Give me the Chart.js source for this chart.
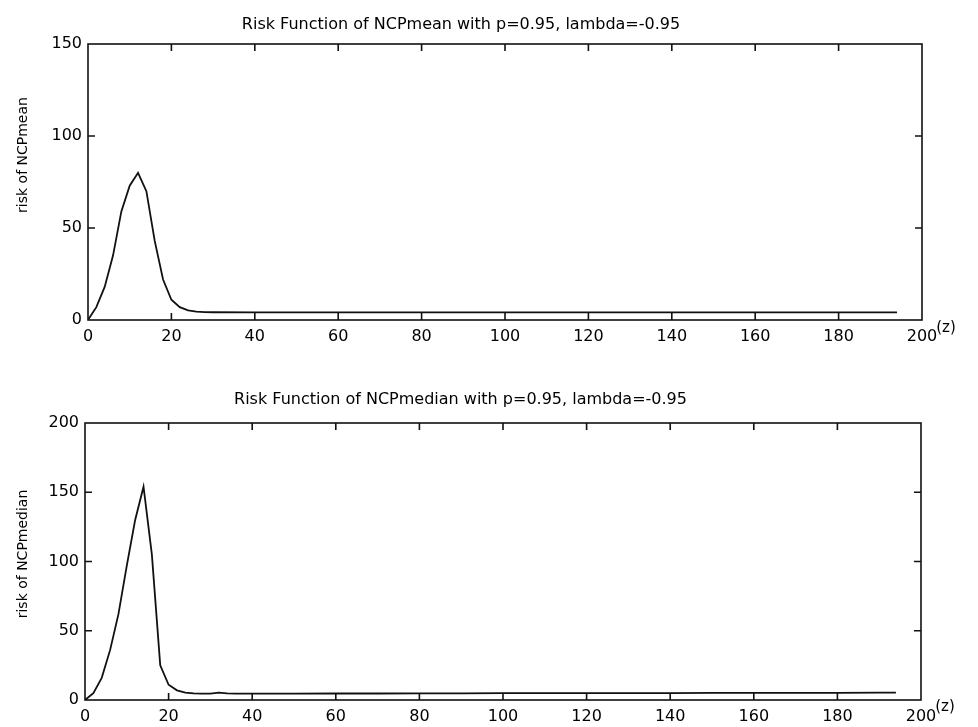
<!DOCTYPE html>
<html><head><meta charset="utf-8">
<script src="https://cdn.jsdelivr.net/npm/chart.js@4/dist/chart.umd.min.js"></script>
<style>
html,body{margin:0;padding:0;background:#fff;}
#wrap{position:relative;width:978px;height:727px;overflow:hidden;}
canvas{position:absolute;left:0;}
</style></head><body>
<div id="wrap">
<canvas id="c1" width="978" height="360" style="top:0;width:978px;height:360px"></canvas>
<canvas id="c2" width="978" height="351" style="top:376px;width:978px;height:351px"></canvas>
</div>
<script>
// ---- data ----
const zMean      = [0, 2, 4, 6, 8, 10, 12, 14, 16, 18, 20, 22, 24, 26, 28, 30, 40, 50, 60, 70, 80, 90, 100, 110, 120, 130, 140, 150, 160, 170, 180, 190, 194];
const riskMean   = [0, 7, 18, 35, 59, 73, 80, 70, 43, 22, 11, 7, 5.2, 4.6, 4.3, 4.2, 4.1, 4.1, 4.1, 4.1, 4.1, 4.1, 4.1, 4.1, 4.1, 4.1, 4.1, 4.1, 4.1, 4.1, 4.1, 4.1, 4.1];
const zMedian    = [0, 2, 4, 6, 8, 10, 12, 14, 16, 18, 20, 22, 24, 26, 28, 30, 32, 34, 36, 40, 50, 60, 70, 80, 90, 100, 110, 120, 130, 140, 150, 160, 170, 180, 190, 194];
const riskMedian = [0, 5, 16, 36, 62, 97, 130, 154, 105, 25, 11, 7, 5.3, 4.8, 4.6, 4.6, 5.3, 4.8, 4.6, 4.6, 4.6, 4.7, 4.7, 4.8, 4.8, 4.9, 4.9, 5, 5, 5, 5.1, 5.1, 5.2, 5.2, 5.3, 5.3];
const xTicks = {min: 0, max: 200, step: 20};
const meanTicks = {min: 0, max: 150, step: 50};
const medianTicks = {min: 0, max: 200, step: 50};
const titleMean = 'Risk Function of NCPmean with p=0.95, lambda=-0.95';
const titleMedian = 'Risk Function of NCPmedian with p=0.95, lambda=-0.95';
const yLabelMean = 'risk of NCPmean';
const yLabelMedian = 'risk of NCPmedian';
const zLabel = '(z)';

const INK = '#111';
const FONT = "'DejaVu Sans', 'Liberation Sans', sans-serif";

const framePlugin = {
  id: 'frame',
  afterDraw(chart, args, o) {
    const {ctx, chartArea: a} = chart;
    const x = chart.scales.x, y = chart.scales.y;
    const L = o.tickLen;
    ctx.save();
    ctx.strokeStyle = INK;
    ctx.lineWidth = o.lineWidth;
    ctx.beginPath();
    x.ticks.forEach(t => {
      const p = x.getPixelForValue(t.value);
      if (p <= a.left + 1 || p >= a.right - 1) return;
      ctx.moveTo(p, a.bottom); ctx.lineTo(p, a.bottom - L);
      ctx.moveTo(p, a.top); ctx.lineTo(p, a.top + L);
    });
    y.ticks.forEach(t => {
      const p = y.getPixelForValue(t.value);
      if (p <= a.top + 1 || p >= a.bottom - 1) return;
      ctx.moveTo(a.left, p); ctx.lineTo(a.left + L, p);
      ctx.moveTo(a.right, p); ctx.lineTo(a.right - L, p);
    });
    ctx.stroke();
    ctx.strokeRect(a.left, a.top, a.right - a.left, a.bottom - a.top);
    ctx.fillStyle = '#000';
    ctx.textAlign = 'center';
    ctx.textBaseline = 'middle';
    ctx.font = '15px ' + FONT;
    ctx.fillText(o.zText, a.right + o.zDx, a.bottom + o.zDy);
    ctx.font = o.yFont + 'px ' + FONT;
    ctx.translate(o.yX, o.yY);
    ctx.rotate(-Math.PI / 2);
    ctx.fillText(o.yText, 0, 0);
    ctx.restore();
  }
};

function makeChart(id, zs, vals, yt, title, yLabel, dims) {
  const data = zs.map((z, i) => ({x: z, y: vals[i]}));
  return new Chart(document.getElementById(id), {
    type: 'line',
    data: {datasets: [{data, borderColor: INK, borderWidth: 1.8, pointRadius: 0, tension: 0, fill: false}]},
    plugins: [framePlugin],
    options: {
      responsive: false,
      animation: false,
      devicePixelRatio: 1,
      layout: {padding: {left: 0, right: dims.padRight, top: 0, bottom: 0}},
      plugins: {
        legend: {display: false},
        tooltip: {enabled: false},
        title: {display: true, text: title, color: '#000',
          font: {family: FONT, size: 16, weight: 'normal'}, padding: dims.titlePad},
        frame: {tickLen: 7, lineWidth: 1.6, zText: zLabel, zDx: 24, zDy: dims.zDy,
          yText: yLabel, yX: 23, yY: dims.yY, yFont: 14}
      },
      scales: {
        x: {type: 'linear', min: xTicks.min, max: xTicks.max,
          grid: {display: false, drawTicks: false}, border: {display: false},
          ticks: {stepSize: xTicks.step, padding: 7, color: '#000', maxRotation: 0,
            font: {family: FONT, size: 16}},
          afterFit: s => { s.height = dims.xH; }},
        y: {type: 'linear', min: yt.min, max: yt.max,
          grid: {display: false, drawTicks: false}, border: {display: false},
          ticks: {stepSize: yt.step, padding: 6, color: '#000',
            font: {family: FONT, size: 16}},
          afterFit: s => { s.width = dims.yW; }}
      }
    }
  });
}

makeChart('c1', zMean, riskMean, meanTicks, titleMean, yLabelMean,
  {padRight: 56, titlePad: {top: 15, bottom: 9.8}, xH: 40, yW: 88, zDy: 8, yY: 155});
makeChart('c2', zMedian, riskMedian, medianTicks, titleMedian, yLabelMedian,
  {padRight: 57, titlePad: {top: 14.4, bottom: 13.4}, xH: 27, yW: 85, zDy: 7, yY: 178});
</script>
</body></html>
